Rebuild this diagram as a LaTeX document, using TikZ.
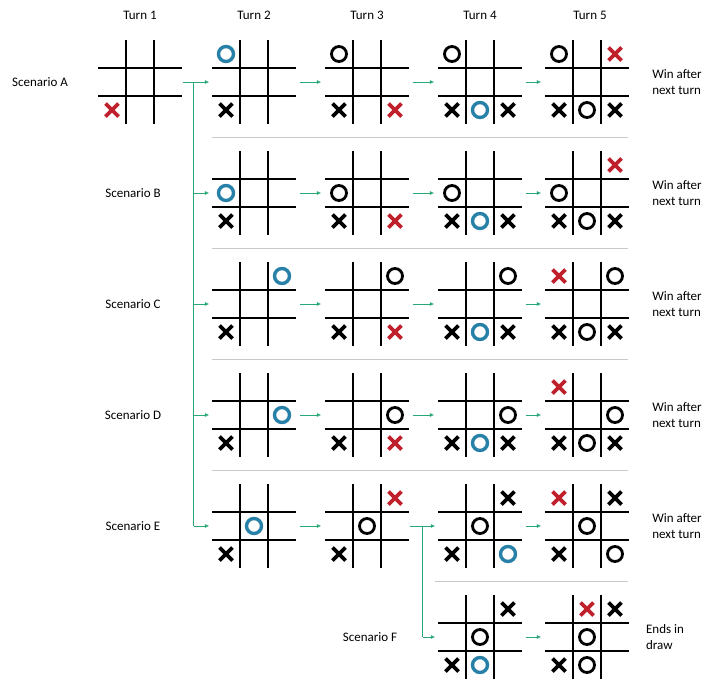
\documentclass[tikz,border=0pt]{standalone}
\usepackage{fontspec}
\setmainfont{Carlito}
\usetikzlibrary{arrows.meta,calc}
\definecolor{xred}{RGB}{192,32,44}
\definecolor{oblue}{RGB}{38,128,168}
\definecolor{agreen}{RGB}{40,168,118}
\definecolor{sep}{RGB}{200,200,200}
\tikzset{
  gridbox/.style={minimum width=85pt,minimum height=85pt,inner sep=0pt},
  gline/.style={line width=1.8pt,black},
  flow/.style={agreen,line width=0.8pt,-{Latex[length=4.5pt,width=4pt]}},
  flowline/.style={agreen,line width=0.8pt},
  lbl/.style={font=\fontsize{13}{16}\selectfont,align=left},
  sepline/.style={sep,line width=1pt}
}
\newcommand\mkx[3][black]{\draw[#1,line width=3.6pt] ($#2+(-6.5,-6.5)$) -- ++(13,13) ($#2+(6.5,-6.5)$) -- ++(-13,13);}
\newcommand\mkrx[1]{\mkx[xred]{#1}}
\newcommand\mko[1]{\draw[black,line width=2.8pt] #1 circle (7.5pt);}
\newcommand\mkbo[1]{\draw[oblue,line width=3.4pt] #1 circle (7.5pt);}
\newcommand\board[4]{%
  \node[gridbox] (#1) at (#2,#3) {};
  \draw[gline] (#2-14,#3-42) -- (#2-14,#3+42) (#2+14,#3-42) -- (#2+14,#3+42)
     (#2-42,#3-14) -- (#2+42,#3-14) (#2-42,#3+14) -- (#2+42,#3+14);
  \foreach \r/\c/\t in {#4} {\csname mk\t\endcsname{(#2+\c*28-28,#3+\r*28-28)}}
}
\begin{document}
\begin{tikzpicture}[x=1pt,y=-1pt]
\useasboundingbox (0,0) rectangle (720,681);
\foreach \n/\x in {1/140,2/254,3/367,4/480,5/590} \node[lbl] (T\n) at (\x,15) {Turn \n};
\foreach \y in {137,248,359,470} \draw[sepline] (212,\y) -- (628,\y);
\draw[sepline] (435,581) -- (628,581);
\board{A1}{140}{82}{2/0/rx}
\board{A2}{254}{82}{0/0/bo,2/0/x}
\board{A3}{367}{82}{0/0/o,2/0/x,2/2/rx}
\board{A4}{480}{82}{0/0/o,2/0/x,2/1/bo,2/2/x}
\board{A5}{587}{82}{0/0/o,0/2/rx,2/0/x,2/1/o,2/2/x}
\board{B2}{254}{193}{1/0/bo,2/0/x}
\board{B3}{367}{193}{1/0/o,2/0/x,2/2/rx}
\board{B4}{480}{193}{1/0/o,2/0/x,2/1/bo,2/2/x}
\board{B5}{587}{193}{0/2/rx,1/0/o,2/0/x,2/1/o,2/2/x}
\board{C2}{254}{304}{0/2/bo,2/0/x}
\board{C3}{367}{304}{0/2/o,2/0/x,2/2/rx}
\board{C4}{480}{304}{0/2/o,2/0/x,2/1/bo,2/2/x}
\board{C5}{587}{304}{0/0/rx,0/2/o,2/0/x,2/1/o,2/2/x}
\board{D2}{254}{415}{1/2/bo,2/0/x}
\board{D3}{367}{415}{1/2/o,2/0/x,2/2/rx}
\board{D4}{480}{415}{1/2/o,2/0/x,2/1/bo,2/2/x}
\board{D5}{587}{415}{0/0/rx,1/2/o,2/0/x,2/1/o,2/2/x}
\board{E2}{254}{526}{1/1/bo,2/0/x}
\board{E3}{367}{526}{0/2/rx,1/1/o,2/0/x}
\board{E4}{480}{526}{0/2/x,1/1/o,2/0/x,2/2/bo}
\board{E5}{587}{526}{0/0/rx,0/2/x,1/1/o,2/0/x,2/2/o}
\board{F4}{480}{637}{0/2/x,1/1/o,2/0/x,2/1/bo}
\board{F5}{587}{637}{0/1/rx,0/2/x,1/1/o,2/0/x,2/1/o}
\node[lbl] (LA) at (40,82) {Scenario A};
\foreach \s/\y in {B/193,C/304,D/415,E/526} \node[lbl] (L\s) at (133,\y) {Scenario \s};
\node[lbl] (LF) at (370,637) {Scenario F};
\foreach \s/\y in {A/82,B/193,C/304,D/415,E/526} \node[lbl] (W\s) at (677,\y) {Win after\\next turn};
\node[lbl] (WF) at (665,637) {Ends in\\draw};
\coordinate (br1) at ($(A1.east)+(11,0)$);
\draw[flowline] (A1.east) -- (br1) -- (br1 |- E2.west);
\foreach \s in {A,B,C,D,E} \draw[flow] (br1 |- \s2.west) -- ([xshift=-2pt]\s2.west);
\foreach \s in {A,B,C,D} {
  \draw[flow] ([xshift=3pt]\s2.east) -- ([xshift=-3pt]\s3.west);
  \draw[flow] ([xshift=3pt]\s3.east) -- ([xshift=-3pt]\s4.west);
  \draw[flow] ([xshift=3pt]\s4.east) -- ([xshift=-3pt]\s5.west);
}
\draw[flow] ([xshift=3pt]E2.east) -- ([xshift=-3pt]E3.west);
\coordinate (br2) at ($(E3.east)+(13,0)$);
\draw[flowline] (E3.east) -- (br2) -- (br2 |- F4.west);
\draw[flow] (br2) -- ([xshift=-2pt]E4.west);
\draw[flow] (br2 |- F4.west) -- ([xshift=-2pt]F4.west);
\draw[flow] ([xshift=3pt]E4.east) -- ([xshift=-3pt]E5.west);
\draw[flow] ([xshift=3pt]F4.east) -- ([xshift=-3pt]F5.west);
\end{tikzpicture}
\end{document}
